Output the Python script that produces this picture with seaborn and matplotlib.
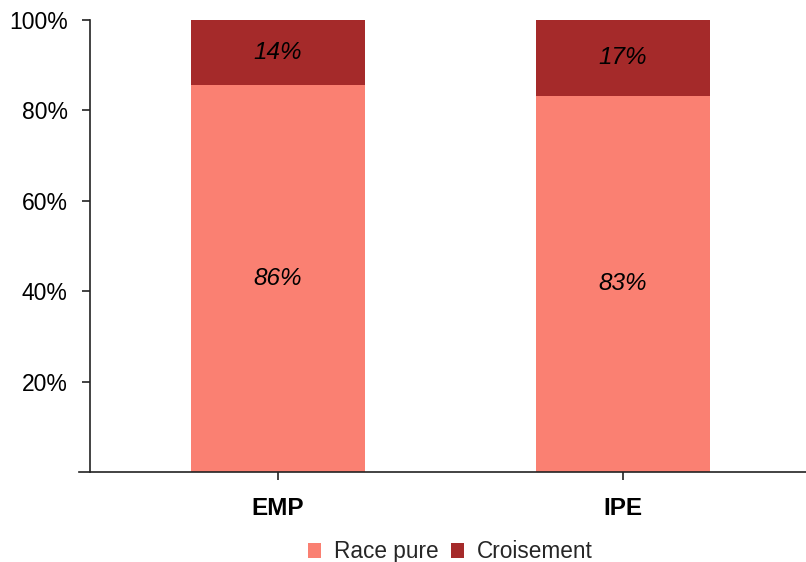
import matplotlib
matplotlib.use("Agg")
import matplotlib.pyplot as plt
import seaborn as sns
import pandas as pd
from matplotlib.patches import Patch

groups = ["EMP", "IPE"]
race_pure = [85.6, 83.2]
croisement = [14.4, 16.8]
series_names = ["Race pure", "Croisement"]
colors = ["#FA8072", "#A52A2A"]
yticks = [20, 40, 60, 80, 100]

sns.set_theme(style="white")
plt.rcParams["font.family"] = ["Liberation Sans", "DejaVu Sans"]

df = pd.DataFrame({"groupe": groups, "race": race_pure, "crois": croisement})
df["total"] = df["race"] + df["crois"]

fig = plt.figure(figsize=(8.06, 5.62), dpi=100)
ax = fig.add_axes([79 / 806, 1 - 472 / 562, 727 / 806, 452 / 562])

sns.barplot(data=df, x="groupe", y="total", color=colors[1], width=0.505,
            saturation=1, ax=ax, linewidth=0)
sns.barplot(data=df, x="groupe", y="race", color=colors[0], width=0.505,
            saturation=1, ax=ax, linewidth=0)

for i, row in df.iterrows():
    ax.text(i, row["race"] / 2, f"{round(row['race'])}%", ha="center", va="center",
            fontsize=17.5, style="italic", color="black")
    ax.text(i, row["race"] + row["crois"] / 2, f"{round(row['crois'])}%", ha="center",
            va="center", fontsize=17.5, style="italic", color="black")

for s in ["top", "right"]:
    ax.spines[s].set_visible(False)
for s in ["left", "bottom"]:
    ax.spines[s].set_color("#222222")
    ax.spines[s].set_linewidth(1.2)
ax.spines["left"].set_position(("axes", 11 / 727))

ax.set_xlim(-0.577, 1.530)
ax.set_ylim(0, 100)
ax.set_yticks(yticks)
ax.set_yticklabels([f"{v}%" for v in yticks])
ax.set_xticks([0, 1])
ax.set_xticklabels(groups, fontweight="bold")
ax.set_xlabel("")
ax.set_ylabel("")

ax.tick_params(axis="both", which="both", direction="out", length=6, width=1.2,
               color="#222222", left=True, bottom=True, labelcolor="black")
ax.tick_params(axis="y", labelsize=16.5, pad=10)
ax.tick_params(axis="x", labelsize=17.5, pad=12)

handles = [Patch(facecolor=c, edgecolor="none") for c in colors]
fig.legend(handles, series_names, loc="center", bbox_to_anchor=(0.5585, 0.018),
           ncol=2, frameon=False, fontsize=16.3, handlelength=0.6, handleheight=0.6,
           handletextpad=0.55, columnspacing=0.55)

fig.savefig("out.png", dpi=100)
